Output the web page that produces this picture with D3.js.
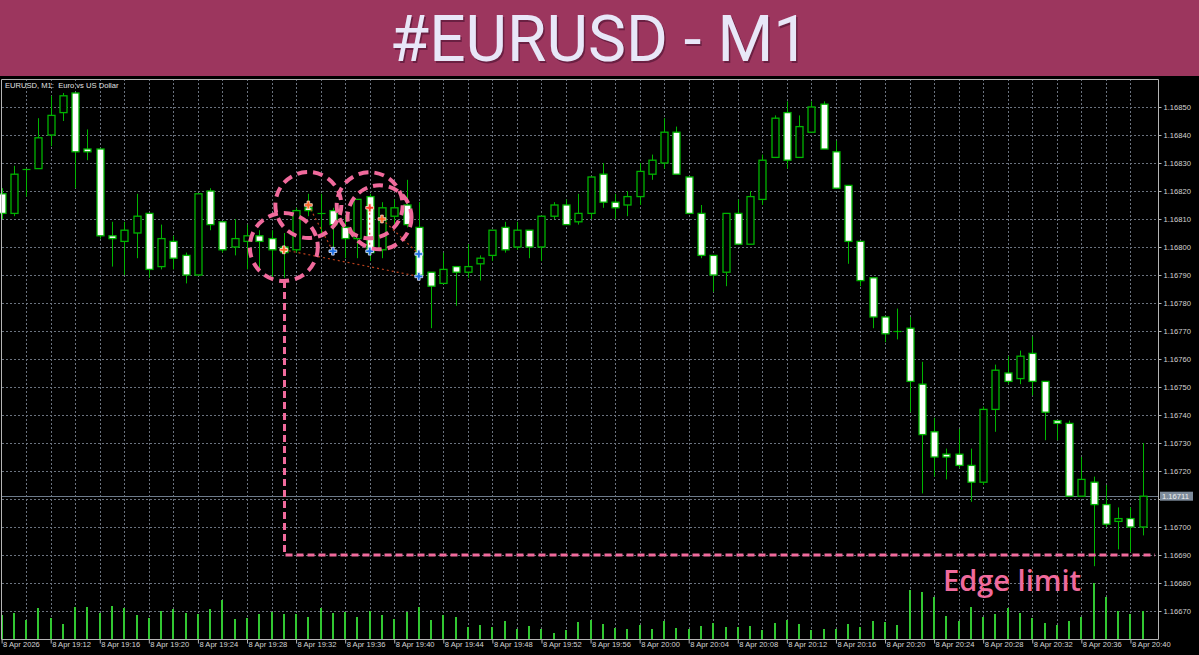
<!DOCTYPE html>
<html><head><meta charset="utf-8">
<script src="https://cdn.jsdelivr.net/npm/d3@7"></script>
<style>
html,body{margin:0;padding:0;background:#000;}
svg{display:block;}
</style></head>
<body>
<svg id="c" width="1199" height="655"></svg>
<script>
// ---------------- DATA ----------------
const times = ["19:08","19:09","19:10","19:11","19:12","19:13","19:14","19:15","19:16","19:17",
"19:18","19:19","19:20","19:21","19:22","19:23","19:24","19:25","19:26","19:27",
"19:28","19:29","19:30","19:31","19:32","19:33","19:34","19:35","19:36","19:37",
"19:38","19:39","19:40","19:41","19:42","19:43","19:44","19:45","19:46","19:47",
"19:48","19:49","19:50","19:51","19:52","19:53","19:54","19:55","19:56","19:57",
"19:58","19:59","20:00","20:01","20:02","20:03","20:04","20:05","20:06","20:07",
"20:08","20:09","20:10","20:11","20:12","20:13","20:14","20:15","20:16","20:17",
"20:18","20:19","20:20","20:21","20:22","20:23","20:24","20:25","20:26","20:27",
"20:28","20:29","20:30","20:31","20:32","20:33","20:34","20:35","20:36","20:37",
"20:38","20:39","20:40","20:41"];

const open = [1.16819,1.16812,1.16828,1.16828,1.16840,1.16848,1.16855,1.16835,1.16835,1.16804,
1.16802,1.16805,1.16812,1.16793,1.16802,1.16797,1.16790,1.16820,1.16809,1.16800,
1.16802,1.16804,1.16803,1.16800,1.16799,1.16814,1.16812,1.16813,1.16807,1.16803,
1.16818,1.16799,1.16811,1.16815,1.16807,1.16791,1.16787,1.16793,1.16791,1.16794,
1.16797,1.16807,1.16800,1.16806,1.16800,1.16811,1.16815,1.16809,1.16812,1.16826,
1.16816,1.16815,1.16818,1.16826,1.16830,1.16841,1.16825,1.16812,1.16797,1.16791,
1.16812,1.16801,1.16817,1.16832,1.16848,1.16832,1.16841,1.16851,1.16834,1.16822,
1.16802,1.16789,1.16775,1.16770,1.16771,1.16751,1.16734,1.16726,1.16726,1.16722,
1.16716,1.16742,1.16755,1.16753,1.16762,1.16752,1.16738,1.16737,1.16711,1.16716,
1.16708,1.16702,1.16703,1.16700];

const high = [1.16821,1.16829,1.16828,1.16846,1.16854,1.16855,1.16855,1.16842,1.16835,1.16809,
1.16809,1.16819,1.16812,1.16808,1.16804,1.16798,1.16819,1.16821,1.16809,1.16810,
1.16808,1.16806,1.16806,1.16805,1.16814,1.16819,1.16819,1.16814,1.16811,1.16817,
1.16819,1.16816,1.16817,1.16824,1.16816,1.16791,1.16798,1.16793,1.16801,1.16797,
1.16806,1.16809,1.16809,1.16806,1.16811,1.16816,1.16817,1.16819,1.16825,1.16830,
1.16819,1.16820,1.16830,1.16833,1.16846,1.16843,1.16825,1.16815,1.16797,1.16812,
1.16817,1.16820,1.16833,1.16847,1.16852,1.16847,1.16852,1.16852,1.16838,1.16822,
1.16802,1.16789,1.16775,1.16778,1.16775,1.16759,1.16739,1.16728,1.16735,1.16728,
1.16743,1.16758,1.16761,1.16763,1.16768,1.16752,1.16738,1.16738,1.16725,1.16718,
1.16715,1.16707,1.16707,1.16730];

const low = [1.16810,1.16811,1.16818,1.16828,1.16836,1.16845,1.16821,1.16831,1.16803,1.16793,
1.16790,1.16796,1.16789,1.16792,1.16792,1.16787,1.16790,1.16806,1.16798,1.16797,
1.16792,1.16792,1.16789,1.16789,1.16798,1.16811,1.16804,1.16799,1.16796,1.16796,
1.16795,1.16796,1.16808,1.16807,1.16789,1.16771,1.16787,1.16779,1.16789,1.16788,
1.16795,1.16798,1.16799,1.16796,1.16795,1.16810,1.16808,1.16808,1.16810,1.16814,
1.16810,1.16811,1.16815,1.16824,1.16828,1.16826,1.16812,1.16796,1.16784,1.16786,
1.16801,1.16801,1.16815,1.16832,1.16828,1.16832,1.16841,1.16835,1.16821,1.16794,
1.16786,1.16771,1.16766,1.16767,1.16741,1.16712,1.16718,1.16717,1.16721,1.16709,
1.16715,1.16734,1.16751,1.16751,1.16747,1.16731,1.16731,1.16711,1.16711,1.16686,
1.16700,1.16692,1.16691,1.16697];

const close = [1.16812,1.16826,1.16828,1.16839,1.16847,1.16854,1.16834,1.16834,1.16804,1.16803,
1.16806,1.16811,1.16792,1.16803,1.16796,1.16790,1.16819,1.16808,1.16799,1.16803,
1.16804,1.16802,1.16799,1.16798,1.16813,1.16813,1.16812,1.16808,1.16803,1.16817,
1.16798,1.16814,1.16814,1.16808,1.16790,1.16786,1.16792,1.16791,1.16793,1.16796,
1.16806,1.16799,1.16806,1.16800,1.16811,1.16815,1.16808,1.16812,1.16825,1.16816,
1.16814,1.16818,1.16827,1.16831,1.16841,1.16826,1.16812,1.16797,1.16790,1.16812,
1.16801,1.16818,1.16831,1.16846,1.16831,1.16843,1.16850,1.16835,1.16821,1.16802,
1.16788,1.16775,1.16769,1.16770,1.16752,1.16733,1.16725,1.16725,1.16722,1.16716,
1.16742,1.16756,1.16752,1.16761,1.16752,1.16741,1.16737,1.16711,1.16717,1.16708,
1.16701,1.16703,1.16700,1.16711];

const volume = [24,26,19,31,21,15,32,32,26,33,
31,24,21,28,30,26,25,30,39,20,
21,25,27,25,25,22,31,26,27,22,
28,24,20,27,32,19,24,22,12,14,
12,18,10,13,10,6,9,17,19,15,
11,10,14,10,18,11,10,13,16,12,
12,13,9,16,19,15,9,10,10,15,
12,18,17,14,49,47,42,23,18,32,
22,25,31,26,21,16,14,18,22,56,
42,28,25,28];

const priceTicks = [1.16670,1.16680,1.16690,1.16700,1.16710,1.16720,1.16730,1.16740,1.16750,
1.16760,1.16770,1.16780,1.16790,1.16800,1.16810,1.16820,1.16830,1.16840,1.16850];
const timeLabels = ["19:08","19:12","19:16","19:20","19:24","19:28","19:32","19:36","19:40",
"19:44","19:48","19:52","19:56","20:00","20:04","20:08","20:12","20:16","20:20","20:24",
"20:28","20:32","20:36","20:40"];
const gridTimes = times.filter((t,i)=> i%2===0 && i>0);

const currentPrice = 1.16711;
const edgeLimit = 1.16690;

// trades: open bar/price -> close bar/price
const tradeOpenTime  = ["19:31","19:33","19:38","19:39"];
const tradeOpenPrice = [1.16799,1.16815,1.16814,1.16810];
const tradeCloseTime = ["19:42","19:35","19:38","19:42"];
const tradeClosePrice= [1.167895,1.167985,1.167985,1.167975];
const tradeOpenColor = ["#ff6a2a","#ff6a2a","#ff3b2a","#ff6a2a"];

// highlight circles (centre bar position, centre price, radius in px)
const circleBar   = [23.0, 25.0, 30.0, 30.8];
const circlePrice = [1.16800, 1.16815, 1.168149, 1.168106];
const circleR     = [34, 33, 33, 32];

// ---------------- DRAW ----------------
const W = 1199, H = 655;
const P = {left:2, right:1158, top:79, bottom:639};
const svg = d3.select("#c");

svg.append("rect").attr("width",W).attr("height",H).attr("fill","#000");

// header
svg.append("rect").attr("x",0).attr("y",0).attr("width",W).attr("height",76).attr("fill","#9c365e");
svg.append("text").attr("x",W/2+1.5).attr("y",62.5).attr("text-anchor","middle")
  .attr("font-family","Roboto").attr("font-size",64).attr("fill","#4a1230").attr("opacity",0.6)
  .text("#EURUSD - M1");
svg.append("text").attr("x",W/2).attr("y",61).attr("text-anchor","middle")
  .attr("font-family","Roboto").attr("font-size",64).attr("fill","#e8e7f8")
  .text("#EURUSD - M1");

const x = d3.scalePoint().domain(times).range([1.6, 1142.7]);
const y = d3.scaleLinear().domain([1.16660, 1.16860]).range([P.bottom, P.top]);
const yVol = d3.scaleLinear().domain([0, 60]).range([P.bottom, P.bottom - 60]);
const xi = i => x(times[0]) + i * x.step();

const crisp = v => Math.round(v) + 0.5;

// grid
const grid = svg.append("g").attr("stroke","#6a727e").attr("stroke-width",1).attr("stroke-dasharray","2,2");
grid.selectAll("line.h").data(priceTicks).join("line")
  .attr("x1",P.left).attr("x2",P.right).attr("y1",d=>crisp(y(d))).attr("y2",d=>crisp(y(d)));
grid.selectAll("line.v").data(gridTimes).join("line")
  .attr("x1",d=>crisp(x(d))).attr("x2",d=>crisp(x(d))).attr("y1",P.top).attr("y2",P.bottom);

// current price line
svg.append("line").attr("x1",P.left).attr("x2",P.right)
  .attr("y1",crisp(y(currentPrice))).attr("y2",crisp(y(currentPrice)))
  .attr("stroke","#6c7a8a").attr("stroke-width",1);

// volumes
svg.append("g").selectAll("line").data(volume).join("line")
  .attr("x1",(d,i)=>Math.round(x(times[i]))).attr("x2",(d,i)=>Math.round(x(times[i])))
  .attr("y1",P.bottom).attr("y2",d=>yVol(d))
  .attr("stroke","#32c832").attr("stroke-width",2);

// candles
const green = "#00b400";
const cg = svg.append("g");
times.forEach((t,i)=>{
  const cx = crisp(x(t));
  cg.append("line").attr("x1",cx).attr("x2",cx).attr("y1",y(high[i])).attr("y2",y(low[i]))
    .attr("stroke",green).attr("stroke-width",1);
  const yo = y(open[i]), yc = y(close[i]);
  const top = Math.min(yo,yc), bot = Math.max(yo,yc);
  if (bot - top < 1) {
    cg.append("line").attr("x1",cx-4).attr("x2",cx+4).attr("y1",crisp(top)).attr("y2",crisp(top))
      .attr("stroke",green).attr("stroke-width",1.2);
  } else {
    cg.append("rect").attr("x",cx-3.5).attr("y",top).attr("width",7).attr("height",bot-top)
      .attr("fill", close[i] < open[i] ? "#ffffff" : "#000000")
      .attr("stroke",green).attr("stroke-width",1.3);
  }
});

// trade lines + markers
const tg = svg.append("g");
tradeOpenTime.forEach((t,i)=>{
  tg.append("line").attr("x1",x(t)).attr("y1",y(tradeOpenPrice[i]))
    .attr("x2",x(tradeCloseTime[i])).attr("y2",y(tradeClosePrice[i]))
    .attr("stroke", t===tradeCloseTime[i] ? "#ff3b2a" : "#b8401c").attr("stroke-width",1.2)
    .attr("stroke-dasharray","2,3");
});
const cross = d3.symbol().type(d3.symbolCross).size(34);
tradeOpenTime.forEach((t,i)=>{
  tg.append("path").attr("d",cross).attr("transform",`translate(${x(t)},${y(tradeOpenPrice[i])})`)
    .attr("fill",tradeOpenColor[i]).attr("stroke","#ffe0d0").attr("stroke-width",0.8);
  tg.append("path").attr("d",cross).attr("transform",`translate(${x(tradeCloseTime[i])},${y(tradeClosePrice[i])})`)
    .attr("fill","#1f6fe0").attr("stroke","#dfe8ff").attr("stroke-width",0.8);
});

// highlight circles
const pink = "#f06a9c";
svg.append("g").selectAll("circle").data(circleBar).join("circle")
  .attr("cx",d=>xi(d)).attr("cy",(d,i)=>y(circlePrice[i])).attr("r",(d,i)=>circleR[i])
  .attr("fill","none").attr("stroke",pink).attr("stroke-width",4).attr("stroke-dasharray","10,6");

// edge limit connector
const ex = crisp(xi(circleBar[0]));
svg.append("path")
  .attr("d",`M${ex},${y(circlePrice[0])+circleR[0]} L${ex},${y(edgeLimit)} L${P.right-3},${y(edgeLimit)}`)
  .attr("fill","none").attr("stroke",pink).attr("stroke-width",3).attr("stroke-dasharray","7,4");
svg.append("text").attr("x",943).attr("y",591).attr("font-family","Open Sans").attr("font-weight",600)
  .attr("font-size",29).attr("fill",pink).text("Edge limit");

// frame
svg.append("path").attr("d",`M${P.left-0.5},${P.bottom+0.5} V${P.top+0.5} H${P.right+0.5} V${P.bottom+0.5} H${P.left-0.5}`)
  .attr("fill","none").attr("stroke","#b4b4b4").attr("stroke-width",1);

// price axis (the level under the current-price label is left unlabelled, as in the terminal)
const ya = svg.append("g").attr("transform",`translate(${P.right+0.5},0)`)
  .call(d3.axisRight(y).tickValues(priceTicks)
    .tickFormat(d => Math.abs(d - currentPrice) < 0.00003 ? "" : d3.format(".5f")(d))
    .tickSize(3).tickPadding(2));
ya.select(".domain").remove();
ya.selectAll("line").attr("stroke","#b4b4b4");
ya.selectAll("text").attr("fill","#d4d4d4").attr("font-family","Liberation Sans").attr("font-size",7.6);

// current price label
const cpY = y(currentPrice);
svg.append("rect").attr("x",P.right+2).attr("y",cpY-4.5).attr("width",33).attr("height",9).attr("fill","#7d8b9b");
svg.append("text").attr("x",P.right+4).attr("y",cpY+2.8).attr("fill","#f0f0f0")
  .attr("font-family","Liberation Sans").attr("font-size",7.6).text(d3.format(".5f")(currentPrice));

// time axis
const xa = svg.append("g").attr("transform",`translate(0,${P.bottom+0.5})`)
  .call(d3.axisBottom(x).tickValues(timeLabels)
    .tickFormat(t => t===times[0] ? "8 Apr 2026" : "8 Apr " + t).tickSize(4).tickPadding(2));
xa.select(".domain").remove();
xa.selectAll("line").attr("stroke","#b4b4b4");
xa.selectAll("text").attr("text-anchor","start").attr("dx",1).attr("dy","0.2em")
  .attr("fill","#d4d4d4").attr("font-family","Liberation Sans").attr("font-size",7.6);

// chart caption
svg.append("text").attr("x",5).attr("y",88).attr("fill","#e0e0e0")
  .attr("font-family","Liberation Sans").attr("font-size",7.6).attr("xml:space","preserve")
  .text("EURUSD, M1:  Euro vs US Dollar");
</script>
</body></html>
